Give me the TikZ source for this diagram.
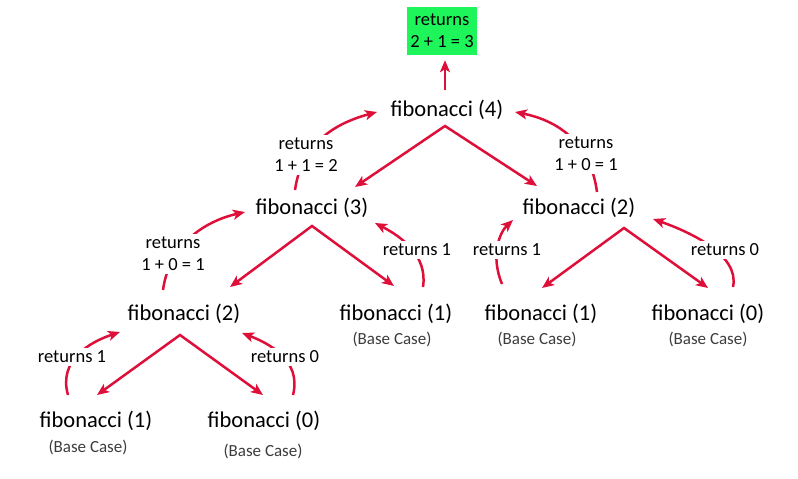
\documentclass[tikz,border=0pt]{standalone}
\usepackage{fontspec}
\setmainfont{Carlito}
\usetikzlibrary{arrows.meta}
\definecolor{callred}{RGB}{222,16,58}
\definecolor{resgreen}{RGB}{30,245,90}
\definecolor{basegray}{RGB}{60,60,60}
\tikzset{
  fib/.style={inner sep=0pt, font=\fontsize{22.5}{26}\selectfont},
  base/.style={inner sep=0pt, text=basegray, font=\fontsize{17}{20}\selectfont},
  lbl/.style={fill=white, inner sep=3pt, align=center, font=\fontsize{18.5}{22}\selectfont},
  arr/.style={draw=callred, line width=2.5pt, line join=miter,
    -{Stealth[length=12pt,width=10pt,inset=3pt]}},
  call/.style={arr, {Stealth[length=12pt,width=10pt,inset=3pt]}-{Stealth[length=12pt,width=10pt,inset=3pt]}},
}
\begin{document}
\begin{tikzpicture}[x=1pt,y=-1pt]
\useasboundingbox (0,0) rectangle (798,479);
% nodes
\node[fill=resgreen, minimum width=70pt, minimum height=48pt, inner sep=0pt, align=center,
      font=\fontsize{18.5}{22}\selectfont] (g) at (442,31) {returns\\2 + 1 = 3};
\node[fib] (f4)  at (447,110) {fibonacci (4)};
\node[fib] (f3)  at (312,208) {fibonacci (3)};
\node[fib] (f2r) at (579,208) {fibonacci (2)};
\node[fib] (f2l) at (184,314) {fibonacci (2)};
\node[fib] (f1m) at (396,314) {fibonacci (1)};
\node[fib] (f1r) at (541,314) {fibonacci (1)};
\node[fib] (f0r) at (708,314) {fibonacci (0)};
\node[fib] (f1b) at (96,421) {fibonacci (1)};
\node[fib] (f0b) at (264,421) {fibonacci (0)};
\node[base] (b1m) at (392,339) {(Base Case)};
\node[base] (b1r) at (537,339) {(Base Case)};
\node[base] (b0r) at (708,339) {(Base Case)};
\node[base] (b1b) at (88,447) {(Base Case)};
\node[base] (b0b) at (263,451) {(Base Case)};
% result arrow
\draw[arr] ([shift={(-2,-20)}]f4.center) -- ([shift={(3,5)}]g.south);
% call arrows
\draw[call] ([shift={(43,-21)}]f3.center) -- ([shift={(-2,16)}]f4.center) -- ([shift={(-42,-22)}]f2r.center);
\draw[call] ([shift={(46,-27)}]f2l.center) -- ([shift={(0,18)}]f3.center) -- ([shift={(-2,-28)}]f1m.center);
\draw[call] ([shift={(1,-26)}]f1r.center) -- ([shift={(45,20)}]f2r.center) -- ([shift={(0,-26)}]f0r.center);
\draw[call] ([shift={(1,-26)}]f1b.center) -- ([shift={(-4,21)}]f2l.center) -- ([shift={(-1,-26)}]f0b.center);
% return arrows
\draw[arr] ([shift={(-17,-18)}]f3.center) .. controls +(7,-50) and +(-37,10) .. ([shift={(-70,2)}]f4.center);
\draw[arr] ([shift={(18,-16)}]f2r.center) .. controls +(-7,-52) and +(40,8) .. ([shift={(68,2)}]f4.center);
\draw[arr] ([shift={(-21,-24)}]f2l.center) .. controls +(7,-50) and +(-35,8) .. ([shift={(-67,4)}]f3.center);
\draw[arr] ([shift={(27,-27)}]f1m.center) .. controls +(5,-32) and +(25,13) .. ([shift={(63,15)}]f3.center);
\draw[arr] ([shift={(-39,-30)}]f1r.center) .. controls +(-12,-29) and +(-13,12) .. ([shift={(-66,12)}]f2r.center);
\draw[arr] ([shift={(25,-27)}]f0r.center) .. controls +(7,-32) and +(37,13) .. ([shift={(74,11)}]f2r.center);
\draw[arr] ([shift={(-28,-26)}]f1b.center) .. controls +(-10,-35) and +(-30,10) .. ([shift={(-64,18)}]f2l.center);
\draw[arr] ([shift={(29,-26)}]f0b.center) .. controls +(9,-35) and +(26,10) .. ([shift={(58,19)}]f2l.center);
% labels
\node[lbl] (l1) at (306,155) {returns\\1 + 1 = 2};
\node[lbl] (l2) at (586,154) {returns\\1 + 0 = 1};
\node[lbl] (l3) at (173,254) {returns\\1 + 0 = 1};
\node[lbl] (l4) at (417,250) {returns 1};
\node[lbl] (l5) at (507,250) {returns 1};
\node[lbl] (l6) at (725,250) {returns 0};
\node[lbl] (l7) at (72,357) {returns 1};
\node[lbl] (l8) at (285,357) {returns 0};
\end{tikzpicture}
\end{document}
